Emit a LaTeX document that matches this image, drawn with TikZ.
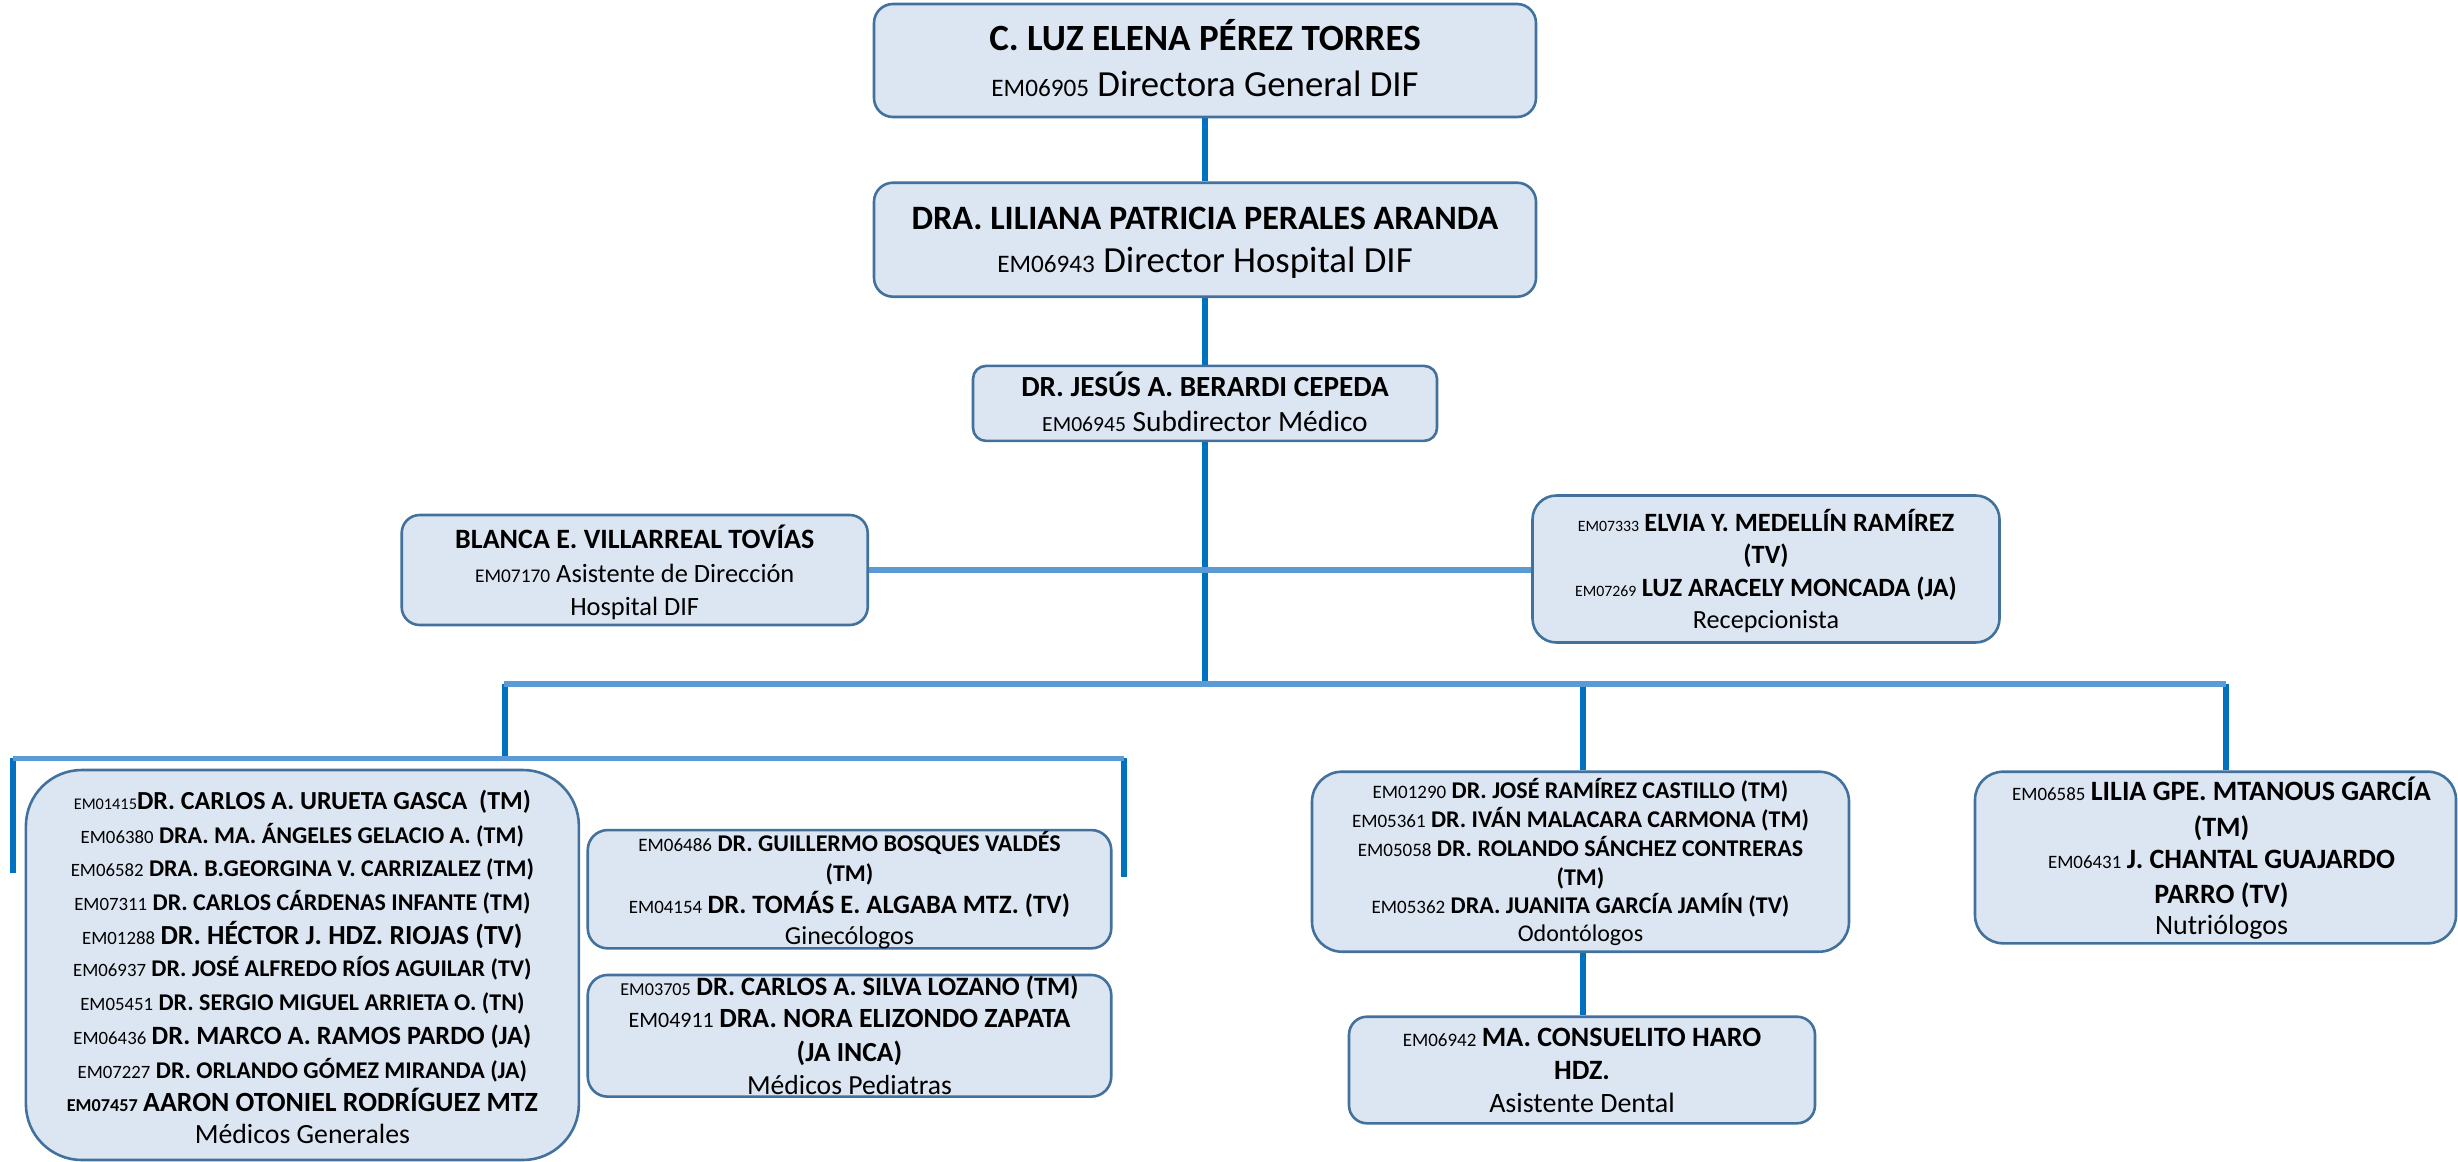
\documentclass[tikz,border=0pt]{standalone}
\usepackage{fontspec}
\setmainfont{Carlito}
\definecolor{boxfill}{HTML}{DCE6F2}
\definecolor{boxline}{HTML}{41719C}
\definecolor{darkc}{HTML}{0070C0}
\definecolor{lightc}{HTML}{5B9BD5}
\newcommand\tfs[2]{{\fontsize{#1}{#1}\selectfont #2}}
\newcommand\tfb[2]{{\fontsize{#1}{#1}\selectfont\bfseries #2}}
\pgfdeclarelayer{bg}
\pgfsetlayers{bg,main}
\begin{document}
\begin{tikzpicture}[x=0.5pt,y=-0.5pt,
  orgbox/.style n args={3}{draw=boxline, fill=boxfill, line width=1.3pt, rounded corners=#3, minimum width=#1*0.5pt, minimum height=#2*0.5pt, inner sep=0pt},
  ln/.style={anchor=base, inner sep=0pt, font=\fontsize{12}{14}\selectfont},
  dline/.style={draw=darkc, line width=3pt},
  lbar/.style={draw=lightc, line width=2.8pt}]
\useasboundingbox (0,0) rectangle (2458,1162);

% boxes
\node[orgbox={662}{113}{9.5pt}] (A) at (1205,60.5) {};
\node[ln] (a1) at (1205,50.7) {\tfb{18.5}{C. LUZ ELENA PÉREZ TORRES}};
\node[ln] (a2) at (1205,96) {\tfs{12.6}{EM06905}\tfs{18.4}{ Directora General DIF}};

\node[orgbox={662}{114}{9.5pt}] (B) at (1205,239.7) {};
\node[ln] (b1) at (1205,229.3) {\tfb{17.1}{DRA. LILIANA PATRICIA PERALES ARANDA}};
\node[ln] (b2) at (1205,272.7) {\tfs{12.6}{EM06943}\tfs{18.4}{ Director Hospital DIF}};

\node[orgbox={464}{75}{6.5pt}] (C) at (1205,403.4) {};
\node[ln] (c1) at (1205,396) {\tfb{14.6}{DR. JESÚS A. BERARDI CEPEDA}};
\node[ln] (c2) at (1205,431.7) {\tfs{10.8}{EM06945}\tfs{14.7}{ Subdirector Médico}};

\node[orgbox={466}{110}{9pt}] (D) at (634.7,570) {};
\node[ln] (d1) at (634.7,548.3) {\tfb{14}{BLANCA E. VILLARREAL TOVÍAS}};
\node[ln] (d2) at (634.7,582.7) {\tfs{9.7}{EM07170}\tfs{13.2}{ Asistente de Dirección}};
\node[ln] (d3) at (634.7,615) {\tfs{13.2}{Hospital DIF}};

\node[orgbox={467}{147}{12pt}] (E) at (1766,569) {};
\node[ln] (e1) at (1766,531.7) {\tfs{7.9}{EM07333} \tfb{13.2}{ELVIA Y. MEDELLÍN RAMÍREZ}};
\node[ln] (e2) at (1766,563.3) {\tfb{13.2}{(TV)}};
\node[ln] (e3) at (1766,596.7) {\tfs{7.9}{EM07269} \tfb{13.2}{LUZ ARACELY MONCADA (JA)}};
\node[ln] (e4) at (1766,628.3) {\tfs{13.1}{Recepcionista}};

\node[orgbox={553}{390}{28pt}] (F) at (302.4,965) {};
\node[ln] (f1) at (302.4,809.3) {\tfs{8.15}{EM01415}\tfb{13}{DR. CARLOS A. URUETA GASCA\ \ (TM)}};
\node[ln] (f2) at (302.4,843.3) {\tfs{9.4}{EM06380} \tfb{12}{DRA. MA. ÁNGELES GELACIO A. (TM)}};
\node[ln] (f3) at (302.4,876) {\tfs{9.4}{EM06582} \tfb{12}{DRA. B.GEORGINA V. CARRIZALEZ (TM)}};
\node[ln] (f4) at (302.4,910) {\tfs{9.4}{EM07311} \tfb{12}{DR. CARLOS CÁRDENAS INFANTE (TM)}};
\node[ln] (f5) at (302.4,944) {\tfs{9.4}{EM01288} \tfb{13.8}{DR. HÉCTOR J. HDZ. RIOJAS (TV)}};
\node[ln] (f6) at (302.4,976.7) {\tfs{9.4}{EM06937} \tfb{12}{DR. JOSÉ ALFREDO RÍOS AGUILAR (TV)}};
\node[ln] (f7) at (302.4,1010.7) {\tfs{9.4}{EM05451} \tfb{12}{DR. SERGIO MIGUEL ARRIETA O. (TN)}};
\node[ln] (f8) at (302.4,1044) {\tfs{9.4}{EM06436} \tfb{13.2}{DR. MARCO A. RAMOS PARDO (JA)}};
\node[ln] (f9) at (302.4,1078.3) {\tfs{9.4}{EM07227} \tfb{12}{DR. ORLANDO GÓMEZ MIRANDA (JA)}};
\node[ln] (f10) at (302.4,1111.7) {\tfb{9.1}{EM07457} \tfb{13.9}{AARON OTONIEL RODRÍGUEZ MTZ}};
\node[ln] (f11) at (302.4,1143.3) {\tfs{13.9}{Médicos Generales}};

\node[orgbox={523.5}{118.3}{10pt}] (G) at (849.5,889.2) {};
\node[ln] (g1) at (849.5,851.7) {\tfs{9.5}{EM06486} \tfb{12}{DR. GUILLERMO BOSQUES VALDÉS}};
\node[ln] (g2) at (849.5,881.7) {\tfb{12}{(TM)}};
\node[ln] (g3) at (849.5,913.3) {\tfs{9.45}{EM04154} \tfb{13.25}{DR. TOMÁS E. ALGABA MTZ. (TV)}};
\node[ln] (g4) at (849.5,944) {\tfs{13}{Ginecólogos}};

\node[orgbox={523.5}{121.7}{10pt}] (H) at (849.5,1035.8) {};
\node[ln] (h1) at (849.5,995) {\tfs{9.1}{EM03705} \tfb{13.25}{DR. CARLOS A. SILVA LOZANO (TM)}};
\node[ln] (h2) at (849.5,1027.7) {\tfs{11}{EM04911} \tfb{13.9}{DRA. NORA ELIZONDO ZAPATA}};
\node[ln] (h3) at (849.5,1061.7) {\tfb{13.8}{(JA INCA)}};
\node[ln] (h4) at (849.5,1094) {\tfs{13.8}{Médicos Pediatras}};

\node[orgbox={537}{180}{15pt}] (I) at (1580.5,861.7) {};
\node[ln] (i1) at (1580.5,798.3) {\tfs{9.5}{EM01290} \tfb{12}{DR. JOSÉ RAMÍREZ CASTILLO (TM)}};
\node[ln] (i2) at (1580.5,827.3) {\tfs{9.5}{EM05361} \tfb{12}{DR. IVÁN MALACARA CARMONA (TM)}};
\node[ln] (i3) at (1580.5,856) {\tfs{9.5}{EM05058} \tfb{12}{DR. ROLANDO SÁNCHEZ CONTRERAS}};
\node[ln] (i4) at (1580.5,885) {\tfb{12}{(TM)}};
\node[ln] (i5) at (1580.5,913.3) {\tfs{9.5}{EM05362} \tfb{12}{DRA. JUANITA GARCÍA JAMÍN (TV)}};
\node[ln] (i6) at (1580.5,941.7) {\tfs{12}{Odontólogos}};

\node[orgbox={466}{106.6}{9pt}] (J) at (1582,1070) {};
\node[ln] (j1) at (1582,1046.7) {\tfs{9.5}{EM06942} \tfb{14}{MA. CONSUELITO HARO}};
\node[ln] (j2) at (1582,1079.3) {\tfb{14}{HDZ.}};
\node[ln] (j3) at (1582,1112.7) {\tfs{14}{Asistente Dental}};

\node[orgbox={481}{171.6}{14pt}] (K) at (2215.5,857.5) {};
\node[ln] (k1) at (2221.5,800.7) {\tfs{9.45}{EM06585} \tfb{14}{LILIA GPE. MTANOUS GARCÍA}};
\node[ln] (k2) at (2221.5,836.7) {\tfb{14}{(TM)}};
\node[ln] (k3) at (2221.5,868.3) {\tfs{9.45}{EM06431} \tfb{14}{J. CHANTAL GUAJARDO}};
\node[ln] (k4) at (2221.5,903.3) {\tfb{14}{PARRO (TV)}};
\node[ln] (k5) at (2221.5,934) {\tfs{14}{Nutriólogos}};

% connectors
\coordinate (b1c) at (1205,684);
\coordinate (b1l) at (503.5,684);
\coordinate (b1r) at (2226,684);
\coordinate (b1v) at (505,684);
\coordinate (b2l) at (12.5,758.3);
\coordinate (b2r) at (1124,758.3);
\coordinate (b2m) at (505,758.3);
\coordinate (fl) at (12.5,873);
\coordinate (gr) at (1124,877);
\coordinate (iv) at (1583,684);
\coordinate (kv) at (2226,684);

\begin{pgfonlayer}{bg}
\draw[dline] (A.south) -- (B.north);
\draw[dline] (B.south) -- (C.north);
\draw[dline] (C.south) -- (b1c);
\draw[lbar] (D.east) -- (D.east -| E.west);
\draw[dline] (b1v) -- (b2m);
\draw[dline] (iv) -- (iv |- I.north);
\draw[dline] (iv |- I.south) -- (iv |- J.north);
\draw[dline] (kv) -- (kv |- K.north);
\draw[dline] (b2l) -- (fl);
\draw[dline] (b2r) -- (gr);
\draw[lbar] (b1l) -- (b1r);
\draw[lbar] (b2l) -- (b2r);
\end{pgfonlayer}
\end{tikzpicture}
\end{document}
